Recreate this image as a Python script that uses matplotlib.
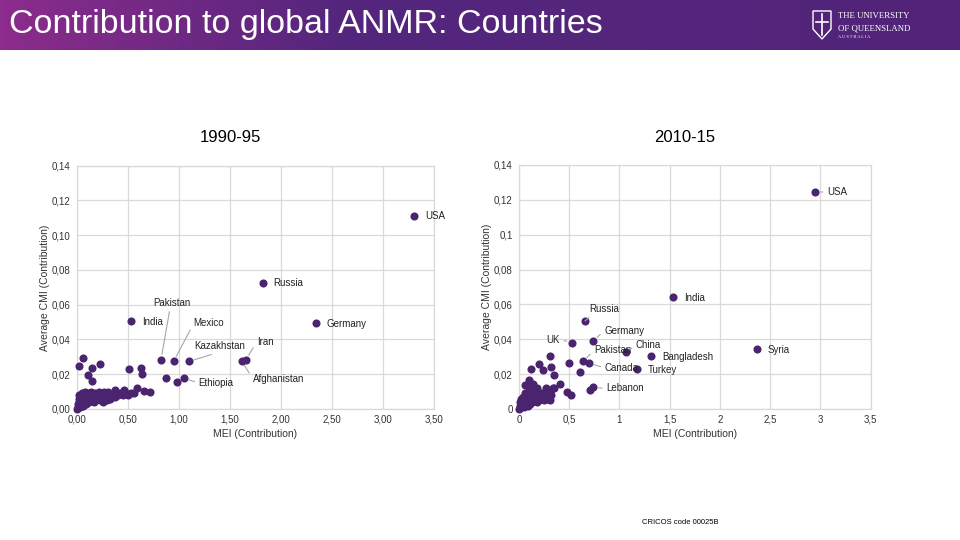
import matplotlib
matplotlib.use("Agg")
import matplotlib.pyplot as plt
import numpy as np
from matplotlib.colors import LinearSegmentedColormap
from matplotlib.patches import Polygon

plt.rcParams['font.family'] = ['Liberation Sans', 'DejaVu Sans']

# ---------------- data: 1990-95 ----------------
names_90 = ["USA", "Russia", "Germany", "India", "Pakistan", "Mexico",
            "Kazakhstan", "Iran", "Afghanistan", "Ethiopia"]
mei_90 = [3.30, 1.826, 2.339, 0.528, 0.825, 0.949, 1.099, 1.654, 1.614, 1.047]
cmi_90 = [0.1112, 0.0727, 0.0497, 0.0508, 0.0284, 0.0274, 0.0274, 0.0282, 0.0278, 0.0178]

other_mei_90 = [0.059, 0.023, 0.225, 0.150, 0.114, 0.150, 0.509, 0.629, 0.636, 0.874, 0.978,
                0.721, 0.656, 0.587, 0.564, 0.460, 0.375,
                0.00, 0.01, 0.01, 0.02, 0.02, 0.02, 0.03, 0.03, 0.03, 0.04, 0.04, 0.04,
                0.05, 0.05, 0.06, 0.06, 0.06, 0.07, 0.07, 0.07, 0.08, 0.08, 0.09, 0.09,
                0.09, 0.10, 0.10, 0.11, 0.11, 0.12, 0.12, 0.13, 0.13, 0.14, 0.15, 0.15,
                0.16, 0.17, 0.17, 0.18, 0.19, 0.20, 0.21, 0.22, 0.23, 0.24, 0.25, 0.26,
                0.27, 0.28, 0.29, 0.30, 0.31, 0.32, 0.33, 0.35, 0.37, 0.40, 0.42, 0.45,
                0.48, 0.50, 0.53, 0.02, 0.05, 0.08, 0.12, 0.18, 0.22, 0.26, 0.30]
other_cmi_90 = [0.0295, 0.0249, 0.0257, 0.0238, 0.0196, 0.0163, 0.0232, 0.0238, 0.0203, 0.0180, 0.0157,
                0.0096, 0.0105, 0.0123, 0.0094, 0.0107, 0.0109,
                0.000, 0.001, 0.003, 0.002, 0.004, 0.006, 0.001, 0.003, 0.005, 0.002, 0.004, 0.007,
                0.003, 0.005, 0.002, 0.004, 0.006, 0.003, 0.005, 0.008, 0.004, 0.006, 0.003, 0.005,
                0.007, 0.004, 0.006, 0.005, 0.008, 0.004, 0.006, 0.005, 0.007, 0.010, 0.005, 0.008,
                0.006, 0.004, 0.007, 0.009, 0.005, 0.007, 0.006, 0.008, 0.005, 0.007, 0.009, 0.006,
                0.010, 0.008, 0.006, 0.009, 0.010, 0.007, 0.006, 0.008, 0.007, 0.008, 0.009, 0.008,
                0.009, 0.008, 0.009, 0.008, 0.009, 0.010, 0.009, 0.006, 0.010, 0.004, 0.005]

# ---------------- data: 2010-15 ----------------
names_10 = ["USA", "India", "Syria", "Russia", "Germany", "UK", "Pakistan", "Canada",
            "China", "Bangladesh", "Turkey", "Lebanon"]
mei_10 = [2.946, 1.530, 2.366, 0.657, 0.737, 0.528, 0.637, 0.693, 1.062, 1.314, 1.175, 0.737]
cmi_10 = [0.1245, 0.0643, 0.0342, 0.0505, 0.0390, 0.0381, 0.0273, 0.0264, 0.0325, 0.0302, 0.0231, 0.0124]

other_mei_10 = [0.710, 0.308, 0.202, 0.315, 0.116, 0.242, 0.500, 0.604, 0.345, 0.103, 0.136,
                0.063, 0.408, 0.341, 0.474, 0.514,
                0.00, 0.01, 0.01, 0.02, 0.02, 0.02, 0.03, 0.03, 0.04, 0.04, 0.05, 0.05,
                0.05, 0.06, 0.06, 0.06, 0.07, 0.07, 0.08, 0.08, 0.09, 0.09, 0.09, 0.10,
                0.10, 0.11, 0.11, 0.12, 0.12, 0.13, 0.13, 0.14, 0.14, 0.15, 0.16, 0.17,
                0.18, 0.18, 0.19, 0.20, 0.21, 0.22, 0.23, 0.24, 0.25, 0.26, 0.27, 0.28,
                0.29, 0.30, 0.31, 0.32, 0.35, 0.12, 0.18, 0.27, 0.31]
other_cmi_10 = [0.0109, 0.0306, 0.0260, 0.0239, 0.0228, 0.0222, 0.0266, 0.0214, 0.0193, 0.0168, 0.0145,
                0.0136, 0.0142, 0.0119, 0.0096, 0.0082,
                0.000, 0.002, 0.004, 0.001, 0.003, 0.006, 0.002, 0.005, 0.003, 0.007, 0.001, 0.004,
                0.006, 0.002, 0.005, 0.009, 0.003, 0.007, 0.004, 0.006, 0.002, 0.005, 0.010, 0.004,
                0.007, 0.003, 0.006, 0.005, 0.009, 0.004, 0.007, 0.006, 0.011, 0.005, 0.008, 0.006,
                0.004, 0.010, 0.007, 0.005, 0.008, 0.006, 0.009, 0.007, 0.005, 0.008, 0.011, 0.006,
                0.009, 0.007, 0.010, 0.008, 0.012, 0.013, 0.012, 0.012, 0.005]

xticks_90 = [0, 0.5, 1.0, 1.5, 2.0, 2.5, 3.0, 3.5]
xlabels_90 = ["0,00", "0,50", "1,00", "1,50", "2,00", "2,50", "3,00", "3,50"]
yticks_90 = [0, 0.02, 0.04, 0.06, 0.08, 0.10, 0.12, 0.14]
ylabels_90 = ["0,00", "0,02", "0,04", "0,06", "0,08", "0,10", "0,12", "0,14"]
xticks_10 = [0, 0.5, 1.0, 1.5, 2.0, 2.5, 3.0, 3.5]
xlabels_10 = ["0", "0,5", "1", "1,5", "2", "2,5", "3", "3,5"]
yticks_10 = [0, 0.02, 0.04, 0.06, 0.08, 0.10, 0.12, 0.14]
ylabels_10 = ["0", "0,02", "0,04", "0,06", "0,08", "0,1", "0,12", "0,14"]

# label placement (pixel offsets): dx, dy, ha, line, relpos
place_90 = {
    "USA": (11, 0, "left", False, (0, 0.5)),
    "Russia": (10, 0, "left", False, (0, 0.5)),
    "Germany": (11, -1, "left", False, (0, 0.5)),
    "India": (11, -1, "left", False, (0, 0.5)),
    "Pakistan": (11, 57, "center", True, (0.45, 0)),
    "Mexico": (20, 38, "left", True, (0, 0.5)),
    "Kazakhstan": (5, 15, "left", True, (0.55, 0)),
    "Iran": (11, 18, "left", True, (0, 0.5)),
    "Afghanistan": (11, -18, "left", True, (0, 0.5)),
    "Ethiopia": (15, -5, "left", True, (0, 0.5)),
}
place_10 = {
    "USA": (12, 0, "left", True, (0, 0.5)),
    "India": (11, -1, "left", False, (0, 0.5)),
    "Syria": (11, -1, "left", False, (0, 0.5)),
    "Russia": (19, 12, "center", True, (0.15, 0)),
    "Germany": (11, 10, "left", True, (0, 0.5)),
    "UK": (-12, 3, "right", True, (1, 0.5)),
    "Pakistan": (11, 11, "left", True, (0, 0.5)),
    "Canada": (16, -5, "left", True, (0, 0.5)),
    "China": (10, 7, "left", True, (0, 0.5)),
    "Bangladesh": (11, -1, "left", False, (0, 0.5)),
    "Turkey": (11, -1, "left", False, (0, 0.5)),
    "Lebanon": (13, -1, "left", True, (0, 0.5)),
}

DOT = '#4B2470'
GRID = '#d9d9d9'
TXT = '#333333'

fig = plt.figure(figsize=(9.6, 5.4), dpi=100)

# header banner
hax = fig.add_axes([0, 1 - 50 / 540, 1, 50 / 540])
cmap = LinearSegmentedColormap.from_list('hdr', [(0, '#8c2c8c'), (0.35, '#55267d'), (1, '#51247A')])
hax.imshow(np.linspace(0, 1, 256)[None, :], aspect='auto', cmap=cmap, extent=[0, 960, 0, 50])
hax.set_xlim(0, 960)
hax.set_ylim(0, 50)
hax.axis('off')
hax.text(9, 26, "Contribution to global ANMR: Countries", color='white', fontsize=24.5,
         va='center', ha='left')
shield = Polygon([[813, 39], [831, 39], [831, 21], [822, 11], [813, 21]], closed=True,
                 fill=False, edgecolor='white', lw=1.0)
hax.add_patch(shield)
hax.plot([822, 822], [15, 36], color='white', lw=1.2)
hax.plot([816, 828], [28, 28], color='white', lw=1.2)
hax.text(838, 34, "THE UNIVERSITY", color='white', fontsize=6.3, family='Liberation Serif',
         va='center', ha='left')
hax.text(838, 22, "OF QUEENSLAND", color='white', fontsize=6.3, family='Liberation Serif',
         va='center', ha='left')
hax.text(838, 13, "A U S T R A L I A", color='white', fontsize=3.2, family='Liberation Serif',
         va='center', ha='left')


def panel(rect, names, mx, my, ox, oy, place, xt, xl, yt, yl):
    ax = fig.add_axes(rect)
    ax.set_xlim(0, 3.5)
    ax.set_ylim(0, 0.14)
    ax.set_xticks(xt)
    ax.set_xticklabels(xl)
    ax.set_yticks(yt)
    ax.set_yticklabels(yl)
    ax.grid(True, color=GRID, lw=0.9)
    ax.set_axisbelow(True)
    for s in ax.spines.values():
        s.set_color(GRID)
        s.set_linewidth(0.9)
    ax.tick_params(axis='x', length=0, labelsize=7, colors=TXT, pad=4)
    ax.tick_params(axis='y', length=0, labelsize=7, colors=TXT, pad=4.5)
    ax.scatter(ox, oy, s=34, color=DOT, zorder=3, clip_on=False, linewidths=0)
    ax.scatter(mx, my, s=34, color=DOT, zorder=3, clip_on=False, linewidths=0)
    for n, x, y in zip(names, mx, my):
        dx, dy, ha, line, rp = place[n]
        ap = dict(arrowstyle='-', color='#a6a6a6', lw=0.8, shrinkA=1, shrinkB=4,
                  relpos=rp) if line else None
        ax.annotate(n, (x, y), xytext=(dx, dy), textcoords='offset pixels', ha=ha,
                    va='center', fontsize=7, color='#222222', arrowprops=ap,
                    annotation_clip=False)
    ax.set_xlabel("MEI (Contribution)", fontsize=7.5, color=TXT, labelpad=3)
    ax.set_ylabel("Average CMI (Contribution)", fontsize=7.5, color=TXT, labelpad=1)
    return ax


ax1 = panel([76.7 / 960, 1 - 409 / 540, (434.3 - 76.7) / 960, (409 - 165.7) / 540],
            names_90, mei_90, cmi_90, other_mei_90, other_cmi_90, place_90,
            xticks_90, xlabels_90, yticks_90, ylabels_90)
ax2 = panel([519 / 960, 1 - 409 / 540, (870.7 - 519) / 960, (409 - 165) / 540],
            names_10, mei_10, cmi_10, other_mei_10, other_cmi_10, place_10,
            xticks_10, xlabels_10, yticks_10, ylabels_10)

fig.text(230 / 960, 1 - 138 / 540, "1990-95", fontsize=12, ha='center', va='center', color='black')
fig.text(685 / 960, 1 - 138 / 540, "2010-15", fontsize=12, ha='center', va='center', color='black')
fig.text(680 / 960, 1 - 523 / 540, "CRICOS code 00025B", fontsize=5.5, ha='center', va='center',
         color='black')

fig.savefig("out.png", dpi=100)
